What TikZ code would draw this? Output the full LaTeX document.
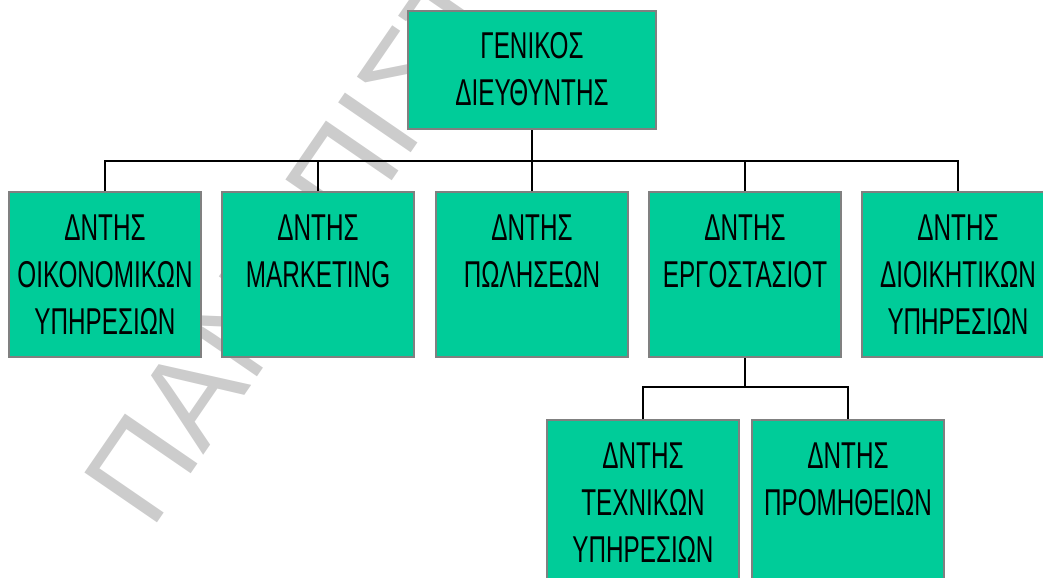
\documentclass[tikz,border=0pt]{standalone}
\usepackage{fontspec}
\setmainfont{Liberation Sans}
\newfontfamily\boxfont[FakeStretch=0.65]{Liberation Sans}
\definecolor{boxgreen}{RGB}{0,204,153}
\definecolor{boxgray}{RGB}{128,128,128}
\definecolor{wmgray}{RGB}{204,204,204}
\tikzset{
  orgbox/.style={draw=boxgray, line width=1.5pt, fill=boxgreen, inner sep=0pt,
    minimum width=144pt, minimum height=123.75pt},
  topbox/.style={orgbox, minimum width=186pt, minimum height=88.5pt},
  boxtext/.style={inner sep=0pt, anchor=base, align=center,
    font=\boxfont\fontsize{28}{35.25}\selectfont},
  conn/.style={draw=black, line width=1.5pt},
  watermark/.style={inner sep=0pt, anchor=base west, text=wmgray,
    font=\fontsize{96}{96}\selectfont}
}
\begin{document}
\begin{tikzpicture}[x=0.75pt, y=-0.75pt]
\useasboundingbox (0,0) rectangle (1043,578);
\begin{scope}
\clip (0,0) rectangle (1043,578);
% watermark
\node[watermark, rotate=55.5] (wm) at (151,532) {ΠΑΝΕΠΙΣΤ};
% boxes
\node[topbox] (top) at (532,70) {};
\node[orgbox] (b1) at (105,274.5) {};
\node[orgbox] (b2) at (318,274.5) {};
\node[orgbox] (b3) at (532,274.5) {};
\node[orgbox] (b4) at (745,274.5) {};
\node[orgbox] (b5) at (958,274.5) {};
\node[orgbox] (c1) at (643,502.5) {};
\node[orgbox] (c2) at (848,502.5) {};
% texts (anchored at the baseline of the last line)
\node[boxtext] (ttop) at (532,105) {ΓΕΝΙΚΟΣ\\ΔΙΕΥΘΥΝΤΗΣ};
\node[boxtext] (tb1) at (105,334) {ΔΝΤΗΣ\\ΟΙΚΟΝΟΜΙΚΩΝ\\ΥΠΗΡΕΣΙΩΝ};
\node[boxtext] (tb2) at (318,287) {ΔΝΤΗΣ\\MARKETING};
\node[boxtext] (tb3) at (532,287) {ΔΝΤΗΣ\\ΠΩΛΗΣΕΩΝ};
\node[boxtext] (tb4) at (745,287) {ΔΝΤΗΣ\\ΕΡΓΟΣΤΑΣΙΟΤ};
\node[boxtext] (tb5) at (958,334) {ΔΝΤΗΣ\\ΔΙΟΙΚΗΤΙΚΩΝ\\ΥΠΗΡΕΣΙΩΝ};
\node[boxtext] (tc1) at (643,562) {ΔΝΤΗΣ\\ΤΕΧΝΙΚΩΝ\\ΥΠΗΡΕΣΙΩΝ};
\node[boxtext] (tc2) at (848,515) {ΔΝΤΗΣ\\ΠΡΟΜΗΘΕΙΩΝ};
% connectors
\coordinate (busA) at (0,161);
\coordinate (busB) at (0,387);
\draw[conn] (top.south) -- (top.south |- busA);
\draw[conn] (b1.north) -- (b1.north |- busA) -- (b5.north |- busA) -- (b5.north);
\draw[conn] (b2.north) -- (b2.north |- busA);
\draw[conn] (b3.north) -- (b3.north |- busA);
\draw[conn] (b4.north) -- (b4.north |- busA);
\draw[conn] (b4.south) -- (b4.south |- busB);
\draw[conn] (c1.north) -- (c1.north |- busB) -- (c2.north |- busB) -- (c2.north);
\end{scope}
\end{tikzpicture}
\end{document}
